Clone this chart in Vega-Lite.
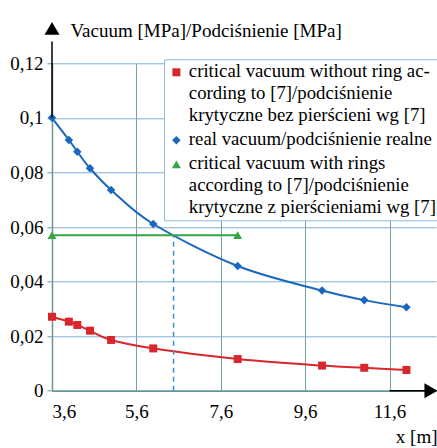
{
  "$schema": "https://vega.github.io/schema/vega-lite/v6.json",
  "width": 384,
  "height": 327.4,
  "autosize": {"type": "none"},
  "padding": {"left": 52, "top": 63.3, "right": 1, "bottom": 57.3},
  "background": "white",
  "config": {"view": {"stroke": null}, "font": "Liberation Serif"},
  "datasets": {
    "main": [
      {"series": "critical vacuum without ring ac-\ncording to [7]/podciśnienie\nkrytyczne bez pierścieni wg [7]", "x": 3.6, "y": 0.0271},
      {"series": "critical vacuum without ring ac-\ncording to [7]/podciśnienie\nkrytyczne bez pierścieni wg [7]", "x": 4.0, "y": 0.0253},
      {"series": "critical vacuum without ring ac-\ncording to [7]/podciśnienie\nkrytyczne bez pierścieni wg [7]", "x": 4.2, "y": 0.0241},
      {"series": "critical vacuum without ring ac-\ncording to [7]/podciśnienie\nkrytyczne bez pierścieni wg [7]", "x": 4.5, "y": 0.022},
      {"series": "critical vacuum without ring ac-\ncording to [7]/podciśnienie\nkrytyczne bez pierścieni wg [7]", "x": 5.0, "y": 0.0186},
      {"series": "critical vacuum without ring ac-\ncording to [7]/podciśnienie\nkrytyczne bez pierścieni wg [7]", "x": 6.0, "y": 0.0155},
      {"series": "critical vacuum without ring ac-\ncording to [7]/podciśnienie\nkrytyczne bez pierścieni wg [7]", "x": 8.0, "y": 0.0116},
      {"series": "critical vacuum without ring ac-\ncording to [7]/podciśnienie\nkrytyczne bez pierścieni wg [7]", "x": 10.0, "y": 0.0092},
      {"series": "critical vacuum without ring ac-\ncording to [7]/podciśnienie\nkrytyczne bez pierścieni wg [7]", "x": 11.0, "y": 0.0084},
      {"series": "critical vacuum without ring ac-\ncording to [7]/podciśnienie\nkrytyczne bez pierścieni wg [7]", "x": 12.0, "y": 0.0076},
      {"series": "real vacuum/podciśnienie realne", "x": 3.6, "y": 0.1},
      {"series": "real vacuum/podciśnienie realne", "x": 4.0, "y": 0.0919},
      {"series": "real vacuum/podciśnienie realne", "x": 4.2, "y": 0.0876},
      {"series": "real vacuum/podciśnienie realne", "x": 4.5, "y": 0.0815},
      {"series": "real vacuum/podciśnienie realne", "x": 5.0, "y": 0.0736},
      {"series": "real vacuum/podciśnienie realne", "x": 6.0, "y": 0.0611},
      {"series": "real vacuum/podciśnienie realne", "x": 8.0, "y": 0.0457},
      {"series": "real vacuum/podciśnienie realne", "x": 10.0, "y": 0.0367},
      {"series": "real vacuum/podciśnienie realne", "x": 11.0, "y": 0.0332},
      {"series": "real vacuum/podciśnienie realne", "x": 12.0, "y": 0.0306},
      {"series": "critical vacuum with rings\naccording to [7]/podciśnienie\nkrytyczne z pierścieniami wg [7]", "x": 3.6, "y": 0.057},
      {"series": "critical vacuum with rings\naccording to [7]/podciśnienie\nkrytyczne z pierścieniami wg [7]", "x": 8.0, "y": 0.057}
    ],
    "dash": [{"x": 6.48, "y": 0, "y2": 0.057}],
    "yarrow": [{"x": 3.6, "y": 0.1, "y2": 0.128}],
    "xarrow": [{"x": 11.6, "x2": 12.5, "y": 0}],
    "yhead": [{"x": 3.6, "y": 0.1328}],
    "xhead": [{"x": 12.58, "y": 0}]
  },
  "encoding": {
    "x": {
      "field": "x", "type": "quantitative",
      "scale": {"domain": [3.6, 12.7], "nice": false, "zero": false},
      "axis": {
        "values": [3.6, 5.6, 7.6, 9.6, 11.6],
        "labelExpr": "replace(format(datum.value, '~g'), '.', ',')",
        "labelFont": "Liberation Serif", "labelFontSize": 19, "labelColor": "black",
        "labelPadding": 12, "tickSize": 0,
        "domainColor": "#6b9595", "domainWidth": 1.5,
        "grid": true, "gridColor": "#7a9ea6", "gridWidth": 1,
        "title": "x [m]", "titleFont": "Liberation Serif", "titleFontSize": 19, "titleFontWeight": "normal", "titleColor": "black",
        "titleAnchor": null, "titleAlign": "right", "titleX": 385, "titleY": 46, "titleBaseline": "middle"
      }
    },
    "y": {
      "field": "y", "type": "quantitative",
      "scale": {"domain": [0, 0.12], "nice": false, "zero": false},
      "axis": {
        "values": [0, 0.02, 0.04, 0.06, 0.08, 0.1, 0.12],
        "labelExpr": "replace(format(datum.value, '~g'), '.', ',')",
        "labelFont": "Liberation Serif", "labelFontSize": 19, "labelColor": "black",
        "labelPadding": 4, "tickSize": 5, "tickColor": "#6b9595",
        "domainColor": "#6b9595", "domainWidth": 1.5,
        "grid": true, "gridColor": "#7fb0d6", "gridWidth": 1,
        "title": "Vacuum [MPa]/Podciśnienie [MPa]", "titleFont": "Liberation Serif", "titleFontSize": 19, "titleFontWeight": "normal", "titleColor": "black",
        "titleAngle": 0, "titleAnchor": null, "titleAlign": "left", "titleBaseline": "middle", "titleX": 18, "titleY": -33
      }
    }
  },
  "layer": [
    {
      "data": {"name": "main"},
      "mark": {"type": "line", "interpolate": "cardinal", "tension": 0, "strokeWidth": 2},
      "encoding": {
        "color": {
          "field": "series", "type": "nominal", "sort": null,
          "scale": {
            "domain": ["critical vacuum without ring ac-\ncording to [7]/podciśnienie\nkrytyczne bez pierścieni wg [7]", "real vacuum/podciśnienie realne", "critical vacuum with rings\naccording to [7]/podciśnienie\nkrytyczne z pierścieniami wg [7]"],
            "range": ["#d8272c", "#1a68bd", "#34a646"]
          },
          "legend": {
            "title": null, "orient": "none", "legendX": 112, "legendY": -4,
            "labelExpr": "split(datum.label, '\\n')",
            "labelFont": "Liberation Serif", "labelFontSize": 18.8, "labelColor": "black", "labelLimit": 0,
            "labelBaseline": "top", "labelOffset": 3,
            "symbolSize": 529, "symbolType": "M-1,0H1",
            "strokeColor": "#8fb8e8", "fillColor": "white", "padding": 3, "rowPadding": 5,
            "encode": {
              "labels": {"update": {"lineHeight": {"value": 22}, "y": {"value": 0}}},
              "symbols": {"update": {
                "shape": {"signal": "datum.index === 0 ? 'M-1,-0.08H1V0.08H-1ZM-0.33,-0.33H0.33V0.33H-0.33Z' : datum.index === 1 ? 'M-1,-0.08H1V0.08H-1ZM-0.4,0L0,-0.4L0.4,0L0,0.4Z' : 'M-1,-0.08H1V0.08H-1ZM0,-0.4L0.43,0.33L-0.43,0.33Z'"},
                "fill": {"scale": "color", "field": "value"},
                "fillOpacity": {"value": 1},
                "strokeWidth": {"value": 0},
                "opacity": {"value": 1},
                "y": {"value": 10}
              }}
            }
          }
        }
      }
    },
    {
      "data": {"name": "main"},
      "mark": {"type": "point", "filled": true, "opacity": 1},
      "encoding": {
        "color": {
          "field": "series", "type": "nominal", "sort": null,
          "scale": {
            "domain": ["critical vacuum without ring ac-\ncording to [7]/podciśnienie\nkrytyczne bez pierścieni wg [7]", "real vacuum/podciśnienie realne", "critical vacuum with rings\naccording to [7]/podciśnienie\nkrytyczne z pierścieniami wg [7]"],
            "range": ["#d8272c", "#1a68bd", "#34a646"]
          }
        },
        "shape": {
          "field": "series", "type": "nominal", "legend": null,
          "scale": {
            "domain": ["critical vacuum without ring ac-\ncording to [7]/podciśnienie\nkrytyczne bez pierścieni wg [7]", "real vacuum/podciśnienie realne", "critical vacuum with rings\naccording to [7]/podciśnienie\nkrytyczne z pierścieniami wg [7]"],
            "range": ["square", "diamond", "triangle-up"]
          }
        },
        "size": {
          "field": "series", "type": "nominal", "legend": null,
          "scale": {
            "domain": ["critical vacuum without ring ac-\ncording to [7]/podciśnienie\nkrytyczne bez pierścieni wg [7]", "real vacuum/podciśnienie realne", "critical vacuum with rings\naccording to [7]/podciśnienie\nkrytyczne z pierścieniami wg [7]"],
            "range": [64, 81, 110]
          }
        }
      }
    },
    {
      "data": {"name": "dash"},
      "mark": {"type": "rule", "color": "#3a8fd8", "strokeWidth": 1.5, "strokeDash": [5, 4]},
      "encoding": {"y2": {"field": "y2"}}
    },
    {
      "data": {"name": "yarrow"},
      "mark": {"type": "rule", "color": "black", "strokeWidth": 1.5},
      "encoding": {"y2": {"field": "y2"}}
    },
    {
      "data": {"name": "xarrow"},
      "mark": {"type": "rule", "color": "black", "strokeWidth": 1.5},
      "encoding": {"x2": {"field": "x2"}}
    },
    {
      "data": {"name": "yhead"},
      "mark": {"type": "point", "shape": "triangle-up", "filled": true, "color": "black", "size": 225, "opacity": 1}
    },
    {
      "data": {"name": "xhead"},
      "mark": {"type": "point", "shape": "triangle-right", "filled": true, "color": "black", "size": 225, "opacity": 1}
    }
  ]
}
